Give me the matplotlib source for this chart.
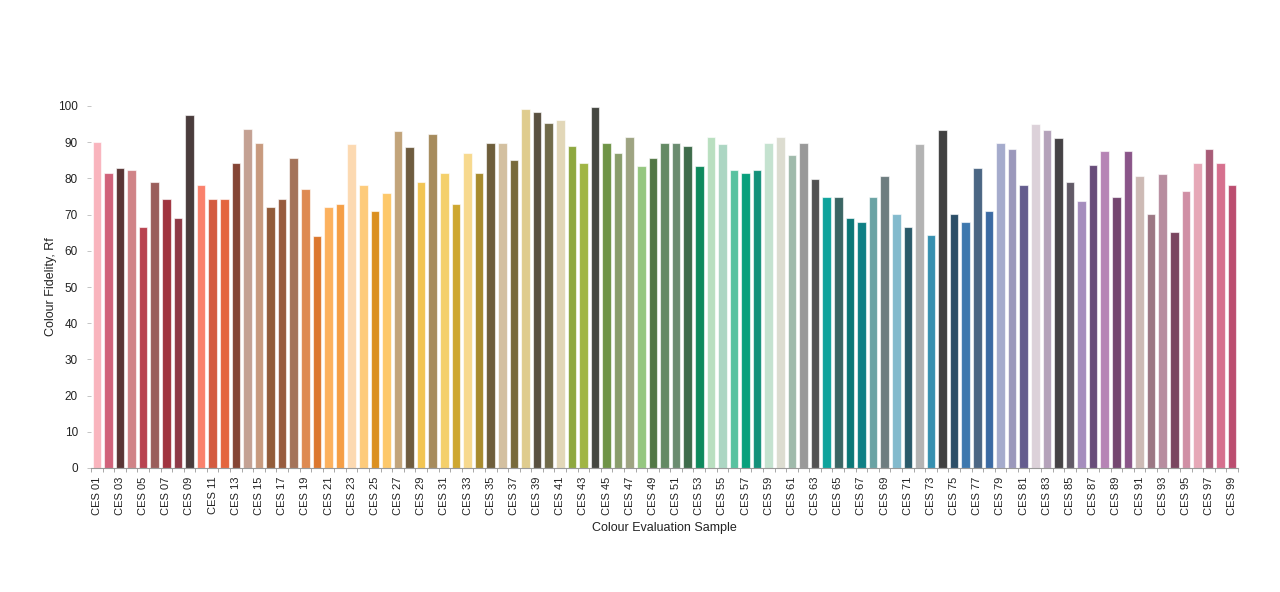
import numpy as np
import matplotlib
matplotlib.use('Agg')
import matplotlib.pyplot as plt
from matplotlib.ticker import FixedLocator

plt.rcParams['font.family'] = ['Liberation Sans', 'DejaVu Sans']

# colour fidelity Rf per colour evaluation sample (CES 01 .. CES 99)
samples = ['CES %02d' % i for i in range(1, 100)]
rf = [90.0, 81.5, 82.9, 82.4, 66.5, 78.9, 74.3, 69.0, 97.6, 78.2,
      74.3, 74.3, 84.3, 93.6, 89.9, 72.0, 74.3, 85.5, 77.1, 64.2,
      72.0, 73.0, 89.5, 78.2, 71.1, 76.0, 93.1, 88.8, 79.0, 92.4,
      81.5, 73.0, 87.1, 81.5, 89.9, 89.9, 85.0, 99.2, 98.3, 95.3,
      96.2, 89.0, 84.2, 99.8, 89.9, 87.1, 91.4, 83.4, 85.5, 89.9,
      89.9, 89.0, 83.5, 91.4, 89.4, 82.3, 81.5, 82.3, 89.9, 91.4,
      86.6, 89.9, 79.9, 75.0, 75.0, 69.0, 68.0, 75.0, 80.6, 70.1,
      66.6, 89.4, 64.3, 93.5, 70.1, 68.0, 83.0, 71.1, 89.9, 88.1,
      78.3, 95.0, 93.5, 91.1, 79.0, 73.8, 83.6, 87.6, 75.0, 87.6,
      80.6, 70.2, 81.1, 65.1, 76.6, 84.3, 88.2, 84.3, 78.3]

# approximate colour of each sample
ces_colors = ['#f9b4bd', '#d0627a', '#5a3535', '#d08387', '#b84350', '#9a5e5b', '#a0343f', '#8f3a47', '#4a3c3c', '#fa816c',
              '#d35b40', '#e4653e', '#854535', '#c4a193', '#c89a7e', '#925c3a', '#975b3e', '#a4735a', '#de8a52', '#dc772e',
              '#fcb15e', '#f59e45', '#fcd9b1', '#fdcb7b', '#db9020', '#fdc86a', '#c2a47a', '#6f5c3f', '#f2c552', '#a68b5c',
              '#f4d06b', '#cea730', '#f7d98e', '#a88b2e', '#6e5e3b', '#d3c0a0', '#786a3a', '#dfcc8e', '#595040', '#716b4a',
              '#e2d7b8', '#8ea83f', '#a0b544', '#454741', '#6f9447', '#8a9e6c', '#9ea482', '#95c780', '#537846', '#648a64',
              '#6b8c70', '#3e6c4b', '#0e8a5d', '#b9dfc0', '#acd6c3', '#58c2a0', '#08a07c', '#13917a', '#c4e2cf', '#dcdcd0',
              '#9fbaab', '#999999', '#525252', '#0fa39c', '#3b6664', '#0b7777', '#0f8085', '#6aa3a4', '#6e7d80', '#83bacd',
              '#2a5a6a', '#b3b3b3', '#3690b0', '#404040', '#2c4f68', '#3e78ae', '#4b6684', '#3b6aa3', '#a5abcc', '#9b98bb',
              '#645c8e', '#dcd1d9', '#b4a2ba', '#454245', '#625a67', '#a58dbd', '#684d7a', '#b684b5', '#744770', '#8a5589',
              '#cdbab5', '#9c7784', '#b78d9f', '#7a4660', '#d08fa5', '#e6a8b7', '#a85c77', '#d6708e', '#bb4d6f']

yticks = list(range(0, 101, 10))

fig = plt.figure(figsize=(12.8, 5.92), dpi=100)
ax = fig.add_axes([91 / 1280, (592 - 468) / 592, (1238 - 91) / 1280, (468 - 106) / 592])

x = np.arange(len(samples))
ax.bar(x, rf, width=0.74, color=ces_colors, edgecolor=(1, 1, 1, 0.6), linewidth=0.8, clip_on=False)

ax.set_xlim(-0.5, len(samples) - 0.5)
ax.set_ylim(0, 100)

# labels on every other sample, tick marks on band edges
ax.set_xticks(x[::2])
ax.set_xticklabels(samples[::2], rotation=90, fontsize=8, color='#222222')
ax.xaxis.set_minor_locator(FixedLocator(np.arange(-0.5, len(samples), 1.0)))
ax.tick_params(axis='x', which='major', length=0, pad=6)
ax.tick_params(axis='x', which='minor', length=3, width=0.6, color='#999999')

ax.set_yticks(yticks)
ax.tick_params(axis='y', length=3, width=0.6, color='#bbbbbb', pad=6.5, labelsize=8.5, labelcolor='#222222')

for s in ['top', 'right', 'left']:
    ax.spines[s].set_visible(False)
ax.spines['bottom'].set_color('#999999')
ax.spines['bottom'].set_linewidth(0.8)

ax.set_xlabel('Colour Evaluation Sample', fontsize=9, color='#222222', labelpad=5)
ax.set_ylabel('Colour Fidelity, Rf', fontsize=9, color='#222222', labelpad=0.5)

fig.savefig('out.png', dpi=100)
